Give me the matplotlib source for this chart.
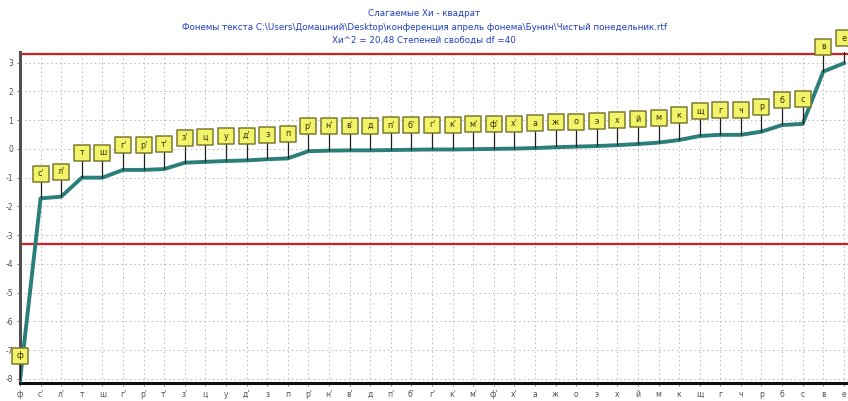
import matplotlib
matplotlib.use("Agg")
import matplotlib.pyplot as plt
import numpy as np

labels = ["ф", "с'", "л'", "т", "ш", "г'", "р'", "т'", "з'", "ц", "у", "д'", "з", "п",
          "р'", "н'", "в'", "д", "п'", "б'", "г'", "к'", "м'", "ф'", "х'", "а", "ж",
          "о", "э", "х", "й", "м", "к", "щ", "г", "ч", "р", "б", "с", "в", "е"]
values = [-8.05, -1.72, -1.66, -1.0, -1.0, -0.73, -0.73, -0.70, -0.48, -0.45, -0.42,
          -0.40, -0.36, -0.33, -0.08, -0.06, -0.05, -0.05, -0.04, -0.03, -0.02, -0.02,
          -0.01, 0.0, 0.01, 0.03, 0.06, 0.08, 0.10, 0.13, 0.17, 0.22, 0.31, 0.45, 0.49,
          0.49, 0.60, 0.83, 0.87, 2.69, 2.98]
critical = 3.3
yticks = [-8, -7, -6, -5, -4, -3, -2, -1, 0, 1, 2, 3]
title_lines = ["Слагаемые Хи - квадрат",
               "Фонемы текста C:\\Users\\Домашний\\Desktop\\конференция апрель фонема\\Бунин\\Чистый понедельник.rtf",
               "Хи^2 = 20,48 Степеней свободы df =40"]

fig = plt.figure(figsize=(8.48, 4.01), dpi=100)
ax = fig.add_axes([20/848, 18/401, 1 - 20/848, 331/401])
x = np.arange(len(values))

ax.set_xlim(0, 40.2)
ax.set_ylim(-8.14, 3.37)

ax.grid(True, color="#b8b8b8", linestyle=(0, (1.5, 3)), linewidth=0.7)
ax.set_axisbelow(True)

ax.axhline(critical, color="#d42020", lw=1.6, zorder=2)
ax.axhline(-critical, color="#d42020", lw=1.6, zorder=2)

ax.plot(x, values, color="#2b7f7a", lw=2.8, zorder=3)

off = 0.86
vals = np.array(values)
box_y = vals + off
ax.vlines(x, vals, box_y, color="#202020", lw=0.9, zorder=4)
ax.scatter(x, box_y, marker="s", s=145, facecolor="#f3f36a", edgecolor="#7a7a30",
           linewidth=1.1, zorder=5, clip_on=False)
for xi, by, lab in zip(x, box_y, labels):
    ax.text(xi, by, lab, ha="center", va="center", fontsize=5.8, color="#303000", zorder=6)

ax.set_xticks(x)
ax.set_xticklabels(labels, fontsize=5.5, color="#505050")
ax.set_yticks(yticks)
ax.set_yticklabels([str(t) for t in yticks], fontsize=5.5, color="#505050")
ax.tick_params(axis="both", length=2, pad=3, width=0.6, color="#707070")

for s in ["top", "right"]:
    ax.spines[s].set_visible(False)
ax.spines["left"].set_color("#505050")
ax.spines["left"].set_linewidth(2.2)
ax.spines["bottom"].set_color("#101010")
ax.spines["bottom"].set_linewidth(2.2)

for t, yy in zip(title_lines, [13, 27, 40]):
    fig.text(0.5, 1 - yy/401, t, ha="center", va="center", fontsize=6.3, color="#2040c0")

fig.savefig("out.png", dpi=100)
